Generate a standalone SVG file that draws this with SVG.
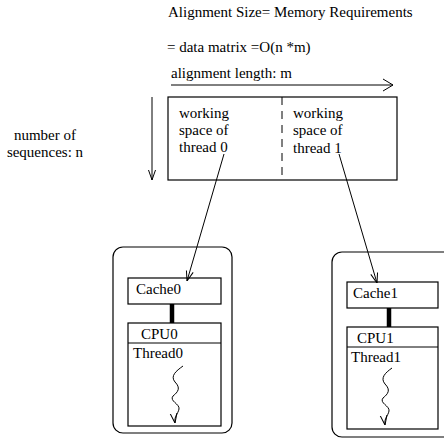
<svg xmlns="http://www.w3.org/2000/svg" width="444" height="440" viewBox="0 0 444 440">
<defs>
<style>
text{font-family:"Liberation Serif","Times New Roman",serif;font-size:15px;fill:#000}
.ln{stroke:#000;stroke-width:1;fill:none}
.box{stroke:#000;stroke-width:1.2;fill:#fff}
.bar{stroke:#000;stroke-width:4.5}
</style>
<marker id="ah" viewBox="0 0 10 10" refX="10" refY="5" markerWidth="10" markerHeight="10" markerUnits="userSpaceOnUse" orient="auto">
<path d="M0,1.5 L10,5 L0,8.5" fill="none" stroke="#000" stroke-width="1"/>
</marker>
<marker id="ahs" viewBox="0 0 10 14" refX="10" refY="7" markerWidth="10" markerHeight="14" markerUnits="userSpaceOnUse" orient="auto">
<path d="M0,1 L10,7 L0,13" fill="none" stroke="#000" stroke-width="1"/>
</marker>
</defs>
<rect width="444" height="440" fill="#fff"/>

<g id="titles">
<text x="168" y="17">Alignment Size= Memory Requirements</text>
<text x="167" y="52">= data matrix =O(n *m)</text>
<text x="171" y="78">alignment length: m</text>
<text x="45" y="140" text-anchor="middle">number of</text>
<text x="45" y="157" text-anchor="middle">sequences: n</text>
</g>

<g id="matrix">
<rect x="168" y="97" width="229" height="83" class="box"/>
<line x1="282" y1="97" x2="282" y2="180" class="ln" stroke-dasharray="8,6"/>
<text x="179" y="118">working</text>
<text x="179" y="135">space of</text>
<text x="179" y="152">thread 0</text>
<text x="293" y="118">working</text>
<text x="293" y="135">space of</text>
<text x="293" y="153">thread 1</text>
</g>

<g id="node0">
<rect x="113" y="247" width="119" height="186" rx="10" ry="10" class="box"/>
<rect x="128" y="278" width="93" height="26" class="box"/>
<text x="136" y="294">Cache0</text>
<rect x="128" y="323" width="93" height="103" class="box"/>
<line x1="128" y1="343" x2="221" y2="343" class="ln"/>
<text x="141" y="339">CPU0</text>
<text x="133" y="358">Thread0</text>
</g>

<g id="node1">
<rect x="332" y="252" width="130" height="185" rx="10" ry="10" class="box"/>
<rect x="347" y="282" width="91" height="26" class="box"/>
<text x="353" y="298">Cache1</text>
<rect x="347" y="327" width="91" height="102" class="box"/>
<line x1="347" y1="347" x2="438" y2="347" class="ln"/>
<text x="357" y="343">CPU1</text>
<text x="351" y="362">Thread1</text>
</g>

<g id="connectors">
<line x1="171" y1="85" x2="393" y2="85" class="ln" marker-end="url(#ahs)"/>
<line x1="152" y1="97" x2="152" y2="180" class="ln" marker-end="url(#ah)"/>
<line x1="224" y1="154" x2="187" y2="281" class="ln" marker-end="url(#ah)"/>
<line x1="339" y1="154" x2="377" y2="283" class="ln" marker-end="url(#ah)"/>
<line x1="172" y1="304" x2="172" y2="323" class="bar"/>
<line x1="389" y1="308" x2="389" y2="327" class="bar"/>
<path d="M183,366 C176,371 170,376 175,382 C181,388 178,392 173,396 C169,401 180,404 179,409 C178,414 174,416 175,423" class="ln" marker-end="url(#ah)"/>
<path d="M392,368 C385,373 380,378 385,384 C391,390 388,394 383,398 C379,403 390,406 389,411 C388,416 384,418 385,425" class="ln" marker-end="url(#ah)"/>
</g>
</svg>
